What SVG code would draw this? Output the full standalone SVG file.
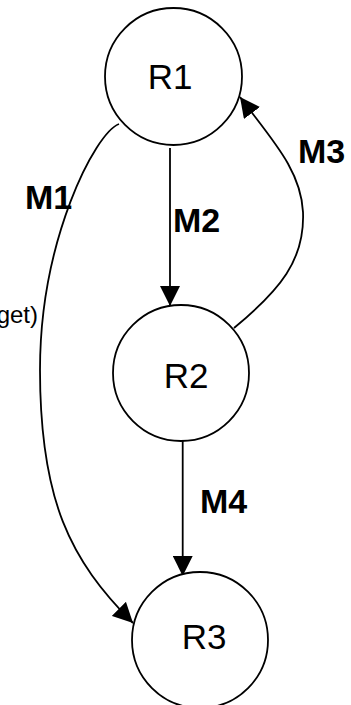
<svg xmlns="http://www.w3.org/2000/svg" width="351" height="705" viewBox="0 0 351 705">
  <defs>
    <style>
      .node circle { fill: #ffffff; stroke: #000000; stroke-width: 1.8; }
      .node text { font-family: "Liberation Sans", Arial, sans-serif; font-size: 35px; fill: #000000; text-anchor: middle; }
      .edge { fill: none; stroke: #000000; stroke-width: 1.8; }
      .lbl { font-family: "Liberation Sans", Arial, sans-serif; font-size: 34px; font-weight: bold; fill: #000000; }
      .note { font-family: "Liberation Sans", Arial, sans-serif; font-size: 24px; fill: #000000; text-anchor: end; }
    </style>
    <marker id="arrow" viewBox="0 0 20 20" refX="20" refY="10" markerWidth="20" markerHeight="20" markerUnits="userSpaceOnUse" orient="auto">
      <path d="M0,0 L20,10 L0,20 Z" fill="#000000"/>
    </marker>
  </defs>
  <rect width="351" height="705" fill="#ffffff"/>
  <g id="connectors">
    <path id="e-m1" class="edge" d="M119,124 C95,133 40,240 40,370 C40,500 70,560 133,623" marker-end="url(#arrow)"/>
    <path id="e-m2" class="edge" d="M170,148 L170,306" marker-end="url(#arrow)"/>
    <path id="e-m3" class="edge" d="M234,328 C280,290 305,260 303,212 C301,170 272,140 240,97" marker-end="url(#arrow)"/>
    <path id="e-m4" class="edge" d="M182.7,441 L182.7,576" marker-end="url(#arrow)"/>
    <text class="lbl" x="25" y="209">M1</text>
    <text class="lbl" x="173" y="232">M2</text>
    <text class="lbl" x="298" y="163">M3</text>
    <text class="lbl" x="200" y="513">M4</text>
    <text class="note" x="38" y="323">get)</text>
  </g>
  <g id="R1" class="node">
    <circle cx="173.5" cy="76.5" r="68.5"/>
    <text x="170" y="89">R1</text>
  </g>
  <g id="R2" class="node">
    <circle cx="181" cy="373" r="68"/>
    <text x="186" y="388">R2</text>
  </g>
  <g id="R3" class="node">
    <circle cx="200" cy="640" r="68"/>
    <text x="204" y="649">R3</text>
  </g>
</svg>
